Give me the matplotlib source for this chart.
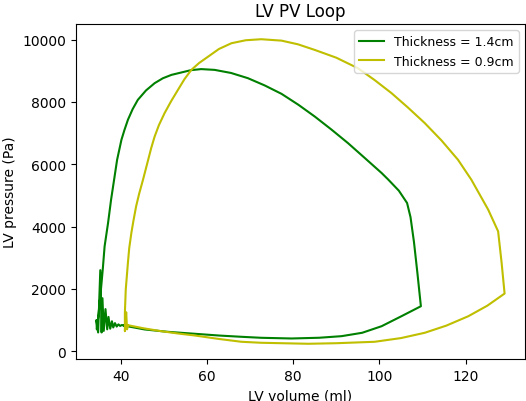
import matplotlib
matplotlib.use("Agg")
import matplotlib.pyplot as plt

# LV pressure-volume loops
# thickness = 1.4cm (green)
vol_thick = [40.8, 45.6, 51.0, 57.2, 63.0, 68.0, 72.6, 79.6, 86.0, 91.2,
             96.0, 100.5, 105.1, 109.6, 108.8, 108.0, 107.2, 106.4, 104.5, 102.0,
             100.5, 96.6, 92.7, 88.9, 85.0, 81.2, 77.3, 73.4, 69.5, 65.6,
             61.8, 58.7, 56.3, 54.1, 51.8, 49.8, 47.9, 45.9, 44.0, 42.8,
             41.7, 40.9, 40.2, 39.2, 38.5, 37.8, 37.1, 36.3, 35.9, 35.4,
             34.9, 34.5, 34.4, 34.8, 35.3, 35.6, 35.8, 36.1, 36.5, 36.9,
             37.2, 37.6, 38.0, 38.3, 38.7, 39.1, 39.5, 39.9, 40.3, 40.8]
pres_thick = [820, 696, 620, 558, 500, 461, 429, 407, 430, 481,
              590, 801, 1122, 1442, 2500, 3500, 4300, 4756, 5150, 5513,
              5718, 6200, 6679, 7110, 7532, 7910, 8260, 8530, 8763, 8930,
              9029, 9054, 9020, 8946, 8869, 8760, 8603, 8370, 8067, 7770,
              7426, 7100, 6785, 6144, 5503, 4862, 4115, 3365, 2673, 1900,
              1200, 700, 1000, 600, 2600, 600, 1700, 650, 1350, 700,
              1100, 720, 960, 760, 900, 790, 860, 810, 840, 820]

# thickness = 0.9cm (yellow)
vol_thin = [41.7, 45.5, 49.4, 53.3, 57.2, 62.6, 68.0, 72.6, 83.5, 90.0,
            98.9, 105.0, 110.5, 115.5, 120.6, 125.0, 129.0, 128.3, 127.5, 125.2,
            121.3, 118.2, 114.4, 110.5, 106.6, 102.8, 98.9, 95.0, 90.0, 85.0,
            81.1, 77.3, 72.6, 69.0, 65.7, 62.8, 60.3, 58.2, 56.4, 54.8,
            53.3, 51.7, 50.2, 48.9, 47.9, 47.1, 46.4, 45.2, 44.3, 43.6,
            43.0, 42.5, 42.0, 41.7, 41.2, 41.0, 41.0, 41.3, 41.5, 41.7]
pres_thin = [833, 730, 641, 567, 503, 395, 301, 269, 237, 255,
             301, 420, 590, 820, 1122, 1460, 1849, 2850, 3846, 4542,
             5503, 6144, 6760, 7321, 7820, 8282, 8700, 9083, 9420, 9670,
             9850, 9968, 10013, 9980, 9885, 9700, 9455, 9250, 9029, 8730,
             8388, 8020, 7641, 7260, 6891, 6520, 6144, 5503, 5050, 4647,
             4200, 3795, 3300, 2833, 1978, 1231, 641, 1250, 700, 833]

fig = plt.figure(figsize=(5.26, 4.02), dpi=100)
ax = fig.add_axes([76 / 526, 42 / 402, 449 / 526, 335 / 402])
ax.plot(vol_thick, pres_thick, color='g', label='Thickness = 1.4cm')
ax.plot(vol_thin, pres_thin, color='y', label='Thickness = 0.9cm')
ax.set_title("LV PV Loop")
ax.set_xlabel("LV volume (ml)")
ax.set_ylabel("LV pressure (Pa)")
ax.legend(loc='upper right', fontsize=9)
fig.savefig("out.png", dpi=100)
